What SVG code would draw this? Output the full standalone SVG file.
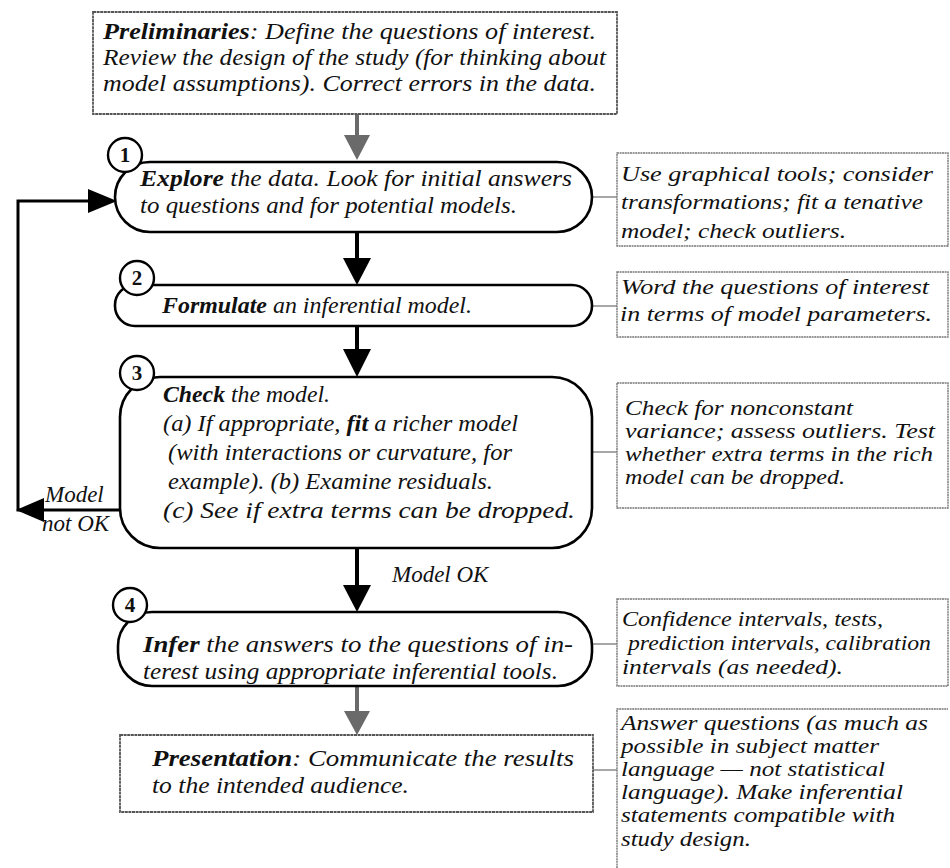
<svg xmlns="http://www.w3.org/2000/svg" width="950" height="868" viewBox="0 0 950 868">
<style>
  text { font-family: "Liberation Serif", "Times New Roman", serif; font-style: italic; fill: #111; }
  .main { font-size: 23px; }
  .side { font-size: 22px; }
  .b { font-weight: bold; }
  .num { font-style: normal; font-weight: bold; font-size: 21px; text-anchor: middle; }
  .node { fill: #fff; stroke: #000; stroke-width: 2.6; }
  .gbox { fill: #fff; stroke: #555; stroke-width: 1.8; stroke-dasharray: 3 0.6; }
  .sbox { fill: #fff; stroke: #777; stroke-width: 1.4; stroke-dasharray: 2 0.6; }
  .circ { fill: #fff; stroke: #000; stroke-width: 2.4; }
  .link { stroke: #777; stroke-width: 1.3; fill: none; }
  .flow { stroke: #000; stroke-width: 4; fill: none; }
  .gflow { stroke: #6a6a6a; stroke-width: 4; fill: none; }
  .loop { stroke: #000; stroke-width: 3; fill: none; }
</style>

<g id="connectors">
  <line class="gflow" x1="357" y1="114" x2="357" y2="138"/>
  <polygon points="344,135 370,135 357,160" fill="#6a6a6a"/>
  <line class="flow" x1="357" y1="232" x2="357" y2="262"/>
  <polygon points="343,258 371,258 357,285" fill="#000"/>
  <line class="flow" x1="357" y1="326" x2="357" y2="352"/>
  <polygon points="343,349 371,349 357,377" fill="#000"/>
  <line class="flow" x1="357" y1="548" x2="357" y2="588"/>
  <polygon points="343,585 371,585 357,612" fill="#000"/>
  <line class="gflow" x1="357" y1="686" x2="357" y2="714"/>
  <polygon points="344,711 370,711 357,735" fill="#6a6a6a"/>
  <polyline class="loop" points="122,510 18,510 18,201 92,201"/>
  <polygon points="16,510 44,498 44,522" fill="#000"/>
  <polygon points="117,201 88,189 88,213" fill="#000"/>
  <line class="link" x1="592" y1="197" x2="617" y2="197"/>
  <line class="link" x1="592" y1="306" x2="617" y2="306"/>
  <line class="link" x1="592" y1="452" x2="617" y2="452"/>
  <line class="link" x1="592" y1="644" x2="617" y2="644"/>
  <line class="link" x1="593" y1="770" x2="617" y2="770"/>
  <text class="main" x="45" y="502">Model</text>
  <text class="main" x="42" y="531">not OK</text>
  <text class="main" x="392" y="582">Model OK</text>
</g>

<g id="preliminaries">
  <rect class="gbox" x="93" y="12" width="524" height="102"/>
  <text class="main" x="103" y="39" textLength="493" lengthAdjust="spacingAndGlyphs"><tspan class="b">Preliminaries</tspan>: Define the questions of interest.</text>
  <text class="main" x="103" y="65" textLength="503" lengthAdjust="spacingAndGlyphs">Review the design of the study (for thinking about</text>
  <text class="main" x="103" y="91" textLength="493" lengthAdjust="spacingAndGlyphs">model assumptions). Correct errors in the data.</text>
</g>

<g id="explore">
  <rect class="node" x="115" y="162" width="477" height="70" rx="35" ry="35"/>
  <circle class="circ" cx="125" cy="155" r="17"/>
  <text class="num" x="125" y="162">1</text>
  <text class="main" x="140" y="186" textLength="432" lengthAdjust="spacingAndGlyphs"><tspan class="b">Explore</tspan> the data. Look for initial answers</text>
  <text class="main" x="140" y="213" textLength="377" lengthAdjust="spacingAndGlyphs">to questions and for potential models.</text>
</g>

<g id="formulate">
  <rect class="node" x="115" y="285" width="477" height="41" rx="20" ry="20"/>
  <circle class="circ" cx="137" cy="278" r="17"/>
  <text class="num" x="137" y="285">2</text>
  <text class="main" x="162" y="313" textLength="310" lengthAdjust="spacingAndGlyphs"><tspan class="b">Formulate</tspan> an inferential model.</text>
</g>

<g id="check">
  <rect class="node" x="120" y="377" width="472" height="171" rx="40" ry="40"/>
  <circle class="circ" cx="137" cy="373" r="17"/>
  <text class="num" x="137" y="380">3</text>
  <text class="main" x="163" y="402" textLength="167" lengthAdjust="spacingAndGlyphs"><tspan class="b">Check</tspan> the model.</text>
  <text class="main" x="163" y="431" textLength="355" lengthAdjust="spacingAndGlyphs">(a) If appropriate, <tspan class="b">fit</tspan> a richer model</text>
  <text class="main" x="168" y="460" textLength="344" lengthAdjust="spacingAndGlyphs">(with interactions or curvature, for</text>
  <text class="main" x="168" y="489" textLength="325" lengthAdjust="spacingAndGlyphs">example). (b) Examine residuals.</text>
  <text class="main" x="163" y="518" textLength="412" lengthAdjust="spacingAndGlyphs">(c) See if extra terms can be dropped.</text>
</g>

<g id="infer">
  <rect class="node" x="118" y="612" width="474" height="74" rx="34" ry="34"/>
  <circle class="circ" cx="130" cy="605" r="17"/>
  <text class="num" x="130" y="612">4</text>
  <text class="main" x="143" y="652" textLength="430" lengthAdjust="spacingAndGlyphs"><tspan class="b">Infer</tspan> the answers to the questions of in-</text>
  <text class="main" x="143" y="679" textLength="415" lengthAdjust="spacingAndGlyphs">terest using appropriate inferential tools.</text>
</g>

<g id="presentation">
  <rect class="gbox" x="120" y="735" width="473" height="77"/>
  <text class="main" x="152" y="766" textLength="422" lengthAdjust="spacingAndGlyphs"><tspan class="b">Presentation</tspan>: Communicate the results</text>
  <text class="main" x="152" y="793" textLength="257" lengthAdjust="spacingAndGlyphs">to the intended audience.</text>
</g>

<g id="note-explore">
  <rect class="sbox" x="617" y="153" width="331" height="93"/>
  <text class="side" x="621" y="181" textLength="312" lengthAdjust="spacingAndGlyphs">Use graphical tools; consider</text>
  <text class="side" x="621" y="209" textLength="302" lengthAdjust="spacingAndGlyphs">transformations; fit a tenative</text>
  <text class="side" x="621" y="238" textLength="225" lengthAdjust="spacingAndGlyphs">model; check outliers.</text>
</g>

<g id="note-formulate">
  <rect class="sbox" x="617" y="272" width="331" height="65"/>
  <text class="side" x="621" y="294" textLength="308" lengthAdjust="spacingAndGlyphs">Word the questions of interest</text>
  <text class="side" x="620" y="321" textLength="312" lengthAdjust="spacingAndGlyphs">in terms of model parameters.</text>
</g>

<g id="note-check">
  <rect class="sbox" x="617" y="383" width="331" height="125"/>
  <text class="side" x="625" y="415" textLength="228" lengthAdjust="spacingAndGlyphs">Check for nonconstant</text>
  <text class="side" x="625" y="438" textLength="310" lengthAdjust="spacingAndGlyphs">variance; assess outliers. Test</text>
  <text class="side" x="625" y="461" textLength="308" lengthAdjust="spacingAndGlyphs">whether extra terms in the rich</text>
  <text class="side" x="625" y="484" textLength="220" lengthAdjust="spacingAndGlyphs">model can be dropped.</text>
</g>

<g id="note-infer">
  <rect class="sbox" x="617" y="599" width="331" height="87"/>
  <text class="side" x="622" y="626" textLength="261" lengthAdjust="spacingAndGlyphs">Confidence intervals, tests,</text>
  <text class="side" x="628" y="650" textLength="303" lengthAdjust="spacingAndGlyphs">prediction intervals, calibration</text>
  <text class="side" x="622" y="674" textLength="221" lengthAdjust="spacingAndGlyphs">intervals (as needed).</text>
</g>

<g id="note-presentation">
  <path class="sbox" d="M617,868 L617,709 L948,709" fill="none"/>
  <text class="side" x="621" y="730" textLength="307" lengthAdjust="spacingAndGlyphs">Answer questions (as much as</text>
  <text class="side" x="621" y="753" textLength="258" lengthAdjust="spacingAndGlyphs">possible in subject matter</text>
  <text class="side" x="621" y="776" textLength="264" lengthAdjust="spacingAndGlyphs">language — not statistical</text>
  <text class="side" x="621" y="799" textLength="282" lengthAdjust="spacingAndGlyphs">language). Make inferential</text>
  <text class="side" x="621" y="822" textLength="274" lengthAdjust="spacingAndGlyphs">statements compatible with</text>
  <text class="side" x="621" y="846" textLength="130" lengthAdjust="spacingAndGlyphs">study design.</text>
</g>
</svg>
